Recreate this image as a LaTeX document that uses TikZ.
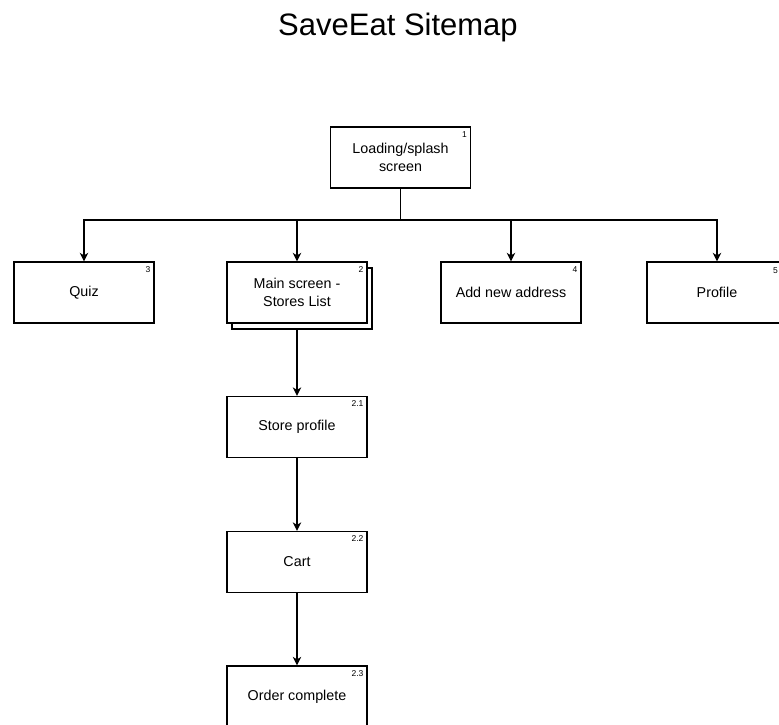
\documentclass[tikz,border=0pt]{standalone}
\usepackage{fontspec}
\setmainfont{Liberation Sans}
\usepackage{tikz}
\usetikzlibrary{positioning}
\usetikzlibrary{arrows.meta, calc}
\tikzstyle{page} = [rectangle, minimum width=140pt, minimum height=61pt, text centered, align=center, draw=black, line width=1.3pt, fill=white, font=\fontsize{14.3}{17.5}\selectfont]
\tikzstyle{num} = [anchor=north east, inner sep=0pt, font=\fontsize{8.5}{8.5}\selectfont]
\tikzstyle{arrow} = [line width=1.3pt, -{Stealth[length=8.5pt, width=8.5pt, inset=2.5pt]}]

\begin{document}
\begin{tikzpicture}[x=1pt, y=-1pt]
      \useasboundingbox (0,0) rectangle (779,724);
      %\draw[help lines] (0,0) grid (779,724);
      \node (title) at (398,35) [anchor=base, font=\fontsize{31}{31}\selectfont] {SaveEat Sitemap};
      %%%%%%%%%%%%%%%%%%%%%%%%%%%%%%%%%%%%%%%
      \draw (400.5,157.5) node (load) [page] {Loading/splash\\screen};
      \draw (84,292.5) node (quiz) [page] {Quiz};
      \draw (302,298.5) node (mainb) [page] {};
      \draw (297,292.5) node (main) [page] {Main screen -\\Stores List};
      \draw (511,292.5) node (addr) [page] {Add new address};
      \draw (717,292.5) node (prof) [page] {Profile};
      \draw (297,427) node (store) [page] {Store profile};
      \draw (297,562) node (cart) [page] {Cart};
      \draw (297,696.5) node (order) [page] {Order complete};
      %% numbers
      \node (n1) at ($(load.north east)+(-4,5)$) [num] {1};
      \node (n3) at ($(quiz.north east)+(-4,5)$) [num] {3};
      \node (n2) at ($(main.north east)+(-4,5)$) [num] {2};
      \node (n4) at ($(addr.north east)+(-4,5)$) [num] {4};
      \node (n5) at (778,267) [num] {5};
      \node (n21) at ($(store.north east)+(-4,5)$) [num] {2.1};
      \node (n22) at ($(cart.north east)+(-4,5)$) [num] {2.2};
      \node (n23) at ($(order.north east)+(-4,5)$) [num] {2.3};
      %% connectors
      \coordinate (bus) at (400.5,220);
      \draw[arrow] (load.south) -- (bus) -| (quiz.north);
      \draw[arrow] (load.south) -- (bus) -| (main.north);
      \draw[arrow] (load.south) -- (bus) -| (addr.north);
      \draw[arrow] (load.south) -- (bus) -| (prof.north);
      \draw[arrow] (main.south |- mainb.south) -- (store.north);
      \draw[arrow] (store) -- (cart);
      \draw[arrow] (cart) -- (order);
      \end{tikzpicture}
\end{document}
